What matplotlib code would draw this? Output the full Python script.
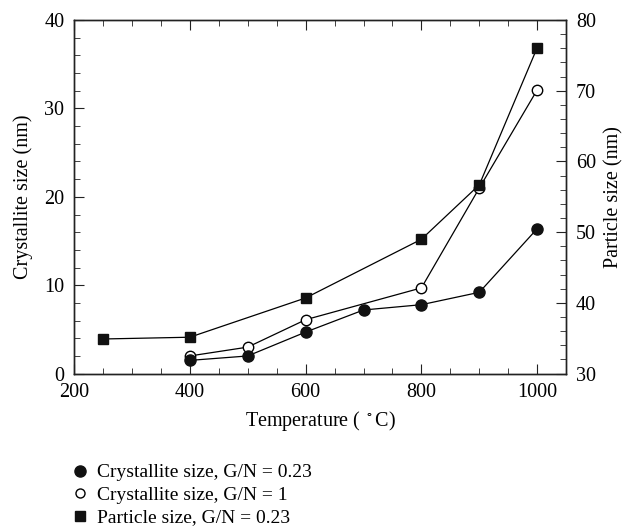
import matplotlib
matplotlib.use('Agg')
import matplotlib.pyplot as plt
from matplotlib.lines import Line2D
from matplotlib.ticker import MultipleLocator

plt.rcParams['font.family'] = ['Liberation Serif', 'DejaVu Serif']
plt.rcParams['mathtext.fontset'] = 'stix'

# crystallite size, G/N = 0.23 (filled circles, left axis)
temp_a = [400, 500, 600, 700, 800, 900, 1000]
cryst_a = [1.5, 2.0, 4.7, 7.2, 7.8, 9.2, 16.4]

# crystallite size, G/N = 1 (open circles, left axis)
temp_b = [400, 500, 600, 800, 900, 1000]
cryst_b = [2.0, 3.0, 6.1, 9.7, 21.0, 32.1]

# particle size, G/N = 0.23 (squares, right axis)
temp_c = [250, 400, 600, 800, 900, 1000]
particle_c = [34.9, 35.15, 40.7, 49.0, 56.7, 76.1]

labels = ['Crystallite size, G/N = 0.23',
          'Crystallite size, G/N = 1',
          'Particle size, G/N = 0.23']

fs = 14.5

fig = plt.figure(figsize=(6.27, 5.27), dpi=100)
ax = fig.add_axes([0.118, 0.291, 0.785, 0.671])
ax2 = ax.twinx()

ax.plot(temp_b, cryst_b, '-', color='black', lw=0.9, marker='o', ms=7.5,
        mfc='white', mec='black', mew=1.0)
ax.plot(temp_a, cryst_a, '-', color='black', lw=0.9, marker='o', ms=8,
        mfc='#111111', mec='#111111')
ax2.plot(temp_c, particle_c, '-', color='black', lw=0.9, marker='s', ms=7.5,
         mfc='#111111', mec='#111111')

ax.set_xlim(200, 1050)
ax.set_ylim(0, 40)
ax2.set_ylim(30, 80)

ax.xaxis.set_major_locator(MultipleLocator(200))
ax.xaxis.set_minor_locator(MultipleLocator(50))
ax.yaxis.set_major_locator(MultipleLocator(10))
ax.yaxis.set_minor_locator(MultipleLocator(2))
ax2.yaxis.set_major_locator(MultipleLocator(10))
ax2.yaxis.set_minor_locator(MultipleLocator(2))

ax.tick_params(which='both', direction='in', top=True, labelsize=fs, color='#222222', pad=7)
ax.tick_params(which='major', length=7)
ax.tick_params(which='minor', length=4)
ax2.tick_params(which='both', direction='in', labelsize=fs, color='#222222', pad=7)
ax2.tick_params(which='major', length=7)
ax2.tick_params(which='minor', length=4)
ax.tick_params(axis='y', which='both', right=False)

for a in (ax, ax2):
    for s in a.spines.values():
        s.set_linewidth(1.0)
        s.set_color('#222222')

ax.set_xlabel('Temperature ( $^\\circ$C)', fontsize=fs, labelpad=5)
ax.set_ylabel('Crystallite size (nm)', fontsize=fs, labelpad=8)
ax2.set_ylabel('Particle size (nm)', fontsize=fs, labelpad=6)

handles = [
    Line2D([], [], ls='none', marker='o', ms=8, mfc='#111111', mec='#111111'),
    Line2D([], [], ls='none', marker='o', ms=6.5, mfc='white', mec='black', mew=1.0),
    Line2D([], [], ls='none', marker='s', ms=6.5, mfc='#111111', mec='#111111'),
]
fig.legend(handles, labels, loc='upper left', bbox_to_anchor=(0.115, 0.12),
           frameon=False, fontsize=14, handlelength=0.8, handletextpad=0.5,
           labelspacing=0.25, borderpad=0, borderaxespad=0)

fig.savefig('out.png', dpi=100)
